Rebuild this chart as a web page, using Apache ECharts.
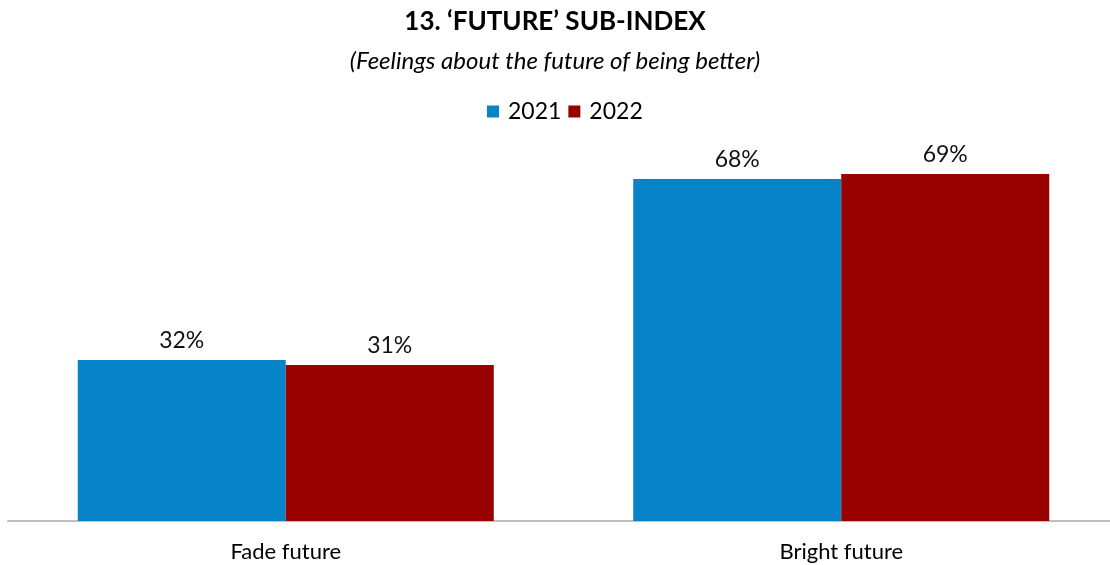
<!DOCTYPE html>
<html>
<head>
<meta charset="utf-8">
<style>
  html, body { margin: 0; padding: 0; background: #fff; }
  #chart { width: 1110px; height: 565px; }
</style>
<script src="https://cdn.jsdelivr.net/npm/echarts@6/dist/echarts.min.js"></script>
</head>
<body>
<div id="chart"></div>
<script>
  const categories = ['Fade future', 'Bright future'];
  const seriesNames = ['2021', '2022'];
  const values2021 = [32, 68];
  const values2022 = [31, 69];

  const FONT = 'Lato, "Open Sans", sans-serif';
  const chart = echarts.init(document.getElementById('chart'));

  const labelStyle = {
    show: true,
    position: 'top',
    distance: 8,
    formatter: p => p.value + '%',
    color: '#111',
    fontFamily: FONT,
    fontSize: 23
  };

  chart.setOption({
    animation: false,
    title: [
      {
        text: '13. \u2018FUTURE\u2019 SUB-INDEX',
        left: 'center',
        top: 4,
        textStyle: { fontFamily: FONT, fontSize: 26, fontWeight: 'bold', color: '#000' }
      },
      {
        text: '(Feelings about the future of being better)',
        left: 'center',
        top: 44,
        textStyle: { fontFamily: FONT, fontSize: 24, fontStyle: 'italic', fontWeight: 'normal', color: '#000' }
      }
    ],
    legend: {
      top: 95,
      left: 482,
      itemWidth: 12,
      itemHeight: 12,
      itemGap: 7,
      icon: 'rect',
      textStyle: { fontFamily: FONT, fontSize: 23, color: '#000', padding: [0, 0, 0, 4] },
      data: seriesNames
    },
    grid: { left: 8, width: 1111, top: 18, bottom: 44, outerBoundsMode: 'none' },
    xAxis: {
      type: 'category',
      data: categories,
      axisLine: { lineStyle: { color: '#bfbfbf', width: 2 } },
      axisTick: { show: false },
      axisLabel: { color: '#000', fontFamily: FONT, fontSize: 22, margin: 20 }
    },
    yAxis: {
      type: 'value',
      min: 0,
      max: 100,
      show: false,
      splitLine: { show: false }
    },
    series: [
      {
        name: seriesNames[0],
        type: 'bar',
        data: values2021,
        barWidth: 208,
        barGap: '0%',
        itemStyle: { color: '#0784c8' },
        label: labelStyle
      },
      {
        name: seriesNames[1],
        type: 'bar',
        data: values2022,
        barWidth: 208,
        barGap: '0%',
        itemStyle: { color: '#990000' },
        label: labelStyle
      }
    ]
  });
</script>
</body>
</html>
